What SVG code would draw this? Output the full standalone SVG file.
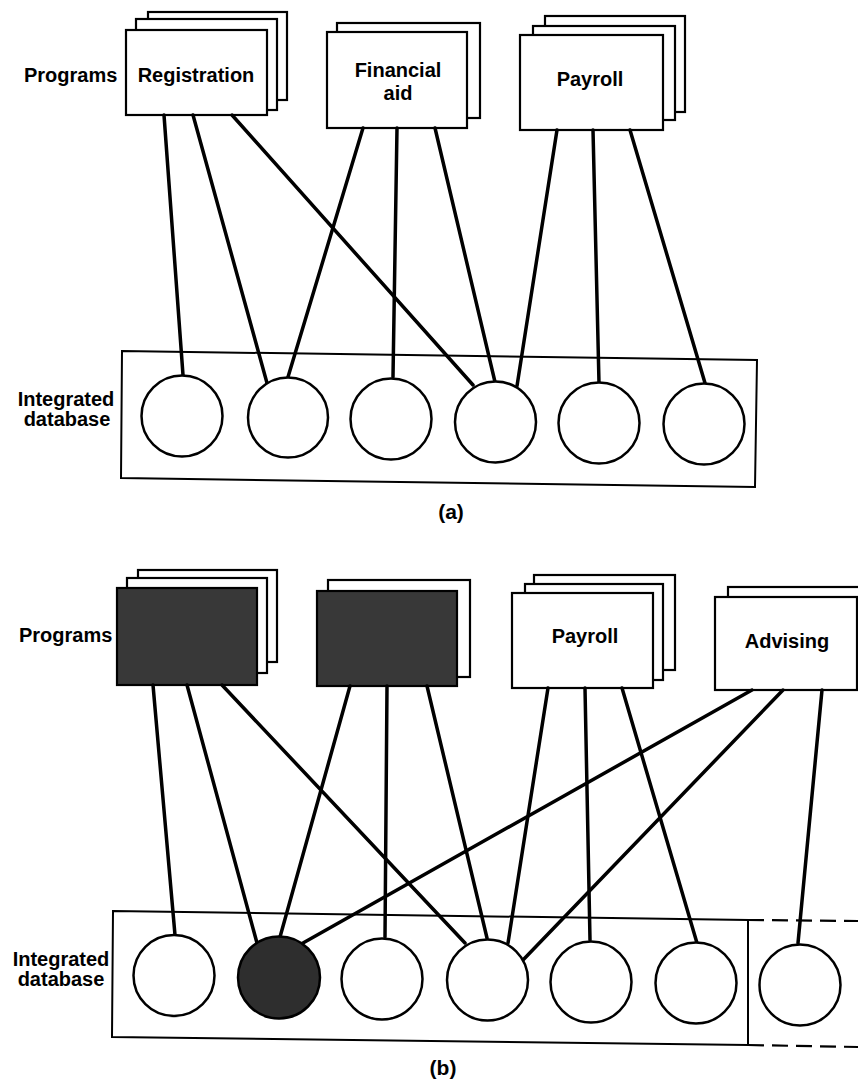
<svg xmlns="http://www.w3.org/2000/svg" width="858" height="1083" viewBox="0 0 858 1083">
<style>
.bx{fill:#fff;stroke:#000;stroke-width:2.2}
.sh{fill:#383838;stroke:#000;stroke-width:2.2}
.db{fill:#fff;stroke:#000;stroke-width:2}
.c{fill:#fff;stroke:#000;stroke-width:2.5}
.cf{fill:#2e2e2e;stroke:#000;stroke-width:2.5}
.ln{stroke:#000;stroke-width:3.5;fill:none;stroke-linecap:round}
.t{font-family:"Liberation Sans",Arial,sans-serif;font-weight:bold;font-size:20px;fill:#000}
.tc{text-anchor:middle}
.cap{font-family:"Liberation Sans",Arial,sans-serif;font-weight:bold;font-size:21px;fill:#000;text-anchor:middle}
</style>
<rect width="858" height="1083" fill="#fff"/>

<!-- ===== Part (a) ===== -->
<text class="t" x="24" y="82">Programs</text>
<g id="a-registration">
<rect class="bx" x="148" y="12" width="139" height="88"/>
<rect class="bx" x="136" y="19" width="141" height="91"/>
<rect class="bx" x="126" y="30" width="141" height="85"/>
<text class="t tc" x="196" y="82">Registration</text>
</g>
<g id="a-financial">
<rect class="bx" x="337" y="23" width="143" height="95"/>
<rect class="bx" x="327" y="32" width="140" height="96"/>
<text class="t tc" x="398" y="77">Financial</text>
<text class="t tc" x="398" y="100">aid</text>
</g>
<g id="a-payroll">
<rect class="bx" x="545" y="16" width="140" height="96"/>
<rect class="bx" x="533" y="26" width="142" height="94"/>
<rect class="bx" x="520" y="35" width="143" height="95"/>
<text class="t tc" x="590" y="86">Payroll</text>
</g>
<g id="a-database">
<polygon class="db" points="122,351 757,360 755,487 121,478"/>
<text class="t tc" x="66" y="406">Integrated</text>
<text class="t tc" x="67" y="426">database</text>
</g>
<g id="a-connectors">
<line class="ln" x1="164" y1="115" x2="183" y2="375"/>
<line class="ln" x1="193" y1="115" x2="267" y2="383"/>
<line class="ln" x1="232" y1="115" x2="473" y2="385"/>
<line class="ln" x1="363" y1="128" x2="288" y2="377"/>
<line class="ln" x1="397" y1="128" x2="393" y2="377"/>
<line class="ln" x1="435" y1="128" x2="495" y2="382"/>
<line class="ln" x1="557" y1="130" x2="517" y2="386"/>
<line class="ln" x1="593" y1="130" x2="599" y2="383"/>
<line class="ln" x1="630" y1="130" x2="705" y2="383"/>
</g>
<g id="a-files">
<circle class="c" cx="182" cy="416" r="40.5"/>
<circle class="c" cx="288" cy="417.5" r="40"/>
<circle class="c" cx="391" cy="419" r="40.5"/>
<circle class="c" cx="495.5" cy="422" r="40.5"/>
<circle class="c" cx="599" cy="423" r="40.5"/>
<circle class="c" cx="704" cy="424" r="40.5"/>
</g>
<text class="cap" x="451" y="519">(a)</text>

<!-- ===== Part (b) ===== -->
<text class="t" x="19" y="642" font-size="18.5">Programs</text>
<g id="b-registration">
<rect class="bx" x="138" y="570" width="139" height="92"/>
<rect class="bx" x="127" y="578" width="140" height="95"/>
<rect class="sh" x="117" y="588" width="140" height="97"/>
</g>
<g id="b-financial">
<rect class="bx" x="328" y="580" width="142" height="97"/>
<rect class="sh" x="317" y="591" width="140" height="95"/>
</g>
<g id="b-payroll">
<rect class="bx" x="534" y="575" width="141" height="95"/>
<rect class="bx" x="525" y="584" width="138" height="96"/>
<rect class="bx" x="512" y="593" width="141" height="95"/>
<text class="t tc" x="585" y="643">Payroll</text>
</g>
<g id="b-advising">
<rect class="bx" x="728" y="587" width="150" height="93"/>
<rect class="bx" x="715" y="597" width="142" height="93"/>
<text class="t tc" x="787" y="648">Advising</text>
</g>
<g id="b-database">
<polygon class="db" points="113,911 748,920 748,1045 112,1037"/>
<path d="M748,920 L858,921 M748,1045 L858,1047" stroke="#000" stroke-width="2.2" stroke-dasharray="16 8" fill="none"/>
<text class="t tc" x="61" y="966">Integrated</text>
<text class="t tc" x="61" y="986">database</text>
</g>
<g id="b-connectors">
<line class="ln" x1="153" y1="685" x2="175" y2="935"/>
<line class="ln" x1="187" y1="685" x2="257" y2="943"/>
<line class="ln" x1="222" y1="685" x2="465" y2="943"/>
<line class="ln" x1="350" y1="686" x2="280" y2="937"/>
<line class="ln" x1="387" y1="686" x2="385" y2="937"/>
<line class="ln" x1="427" y1="686" x2="487" y2="938"/>
<line class="ln" x1="548" y1="688" x2="508" y2="943"/>
<line class="ln" x1="585" y1="688" x2="590" y2="940"/>
<line class="ln" x1="622" y1="688" x2="697" y2="943"/>
<line class="ln" x1="752" y1="690" x2="303" y2="943"/>
<line class="ln" x1="783" y1="690" x2="523" y2="960"/>
<line class="ln" x1="822" y1="690" x2="798" y2="943"/>
</g>
<g id="b-files">
<circle class="c" cx="174" cy="975.5" r="40.5"/>
<circle class="cf" cx="279" cy="977.5" r="41"/>
<circle class="c" cx="382" cy="979" r="40.5"/>
<circle class="c" cx="487.5" cy="980" r="40.5"/>
<circle class="c" cx="591" cy="982" r="40.5"/>
<circle class="c" cx="696" cy="983" r="40.5"/>
<circle class="c" cx="800" cy="985" r="40.5"/>
</g>
<text class="cap" x="443" y="1075">(b)</text>
</svg>
